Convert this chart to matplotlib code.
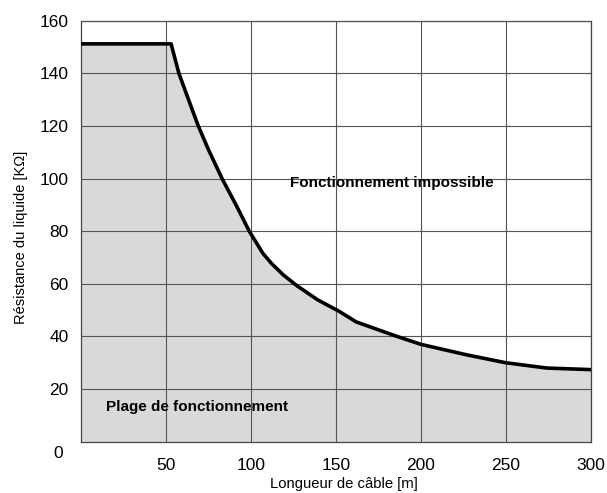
import matplotlib
matplotlib.use("Agg")
import matplotlib.pyplot as plt

plt.rcParams['font.family'] = ['Liberation Sans', 'DejaVu Sans']

# cable length [m] vs max liquid resistance [kOhm]
longueur = [0, 53, 57.6, 62.7, 69, 75, 83, 91.6, 99, 107, 112, 119, 127,
            139, 152, 162, 186, 200, 227, 250, 274, 300]
resistance = [151.2, 151.2, 140, 131, 120, 111, 100, 89.5, 80, 71.6, 67.8,
              63.4, 59.3, 54, 49.5, 45.5, 40, 37, 33, 30, 28, 27.4]

x_ticks = [50, 100, 150, 200, 250, 300]
y_ticks = [20, 40, 60, 80, 100, 120, 140, 160]

fig = plt.figure(figsize=(6.07, 4.93), dpi=100)
ax = fig.add_axes([0.1334, 0.104, 0.8402, 0.854])

ax.fill_between(longueur, 0, resistance, color='#d9d9d9', zorder=1, lw=0)
ax.plot(longueur, resistance, color='black', lw=2.6, zorder=3,
        solid_joinstyle='round', solid_capstyle='butt')

ax.set_xlim(0, 300)
ax.set_ylim(0, 160)
ax.set_xticks(x_ticks)
ax.set_yticks(y_ticks)
ax.grid(True, color='#555555', lw=0.8, zorder=2)
ax.set_axisbelow(False)
for s in ax.spines.values():
    s.set_color('#444444')
    s.set_linewidth(0.9)
    s.set_zorder(2)
ax.tick_params(length=0, labelsize=12.5, pad=9, axis='y')
ax.tick_params(length=0, labelsize=12.5, pad=12, axis='x')

# origin label sits below the axis line
ax.text(-13.2, -4.3, '0', fontsize=12.5, ha='center', va='center')

ax.text(183, 98.5, 'Fonctionnement impossible', fontsize=11,
        fontweight='bold', ha='center', va='center', zorder=4)
ax.text(15, 13.2, 'Plage de fonctionnement', fontsize=11,
        fontweight='bold', ha='left', va='center', zorder=4)

ax.set_xlabel('Longueur de câble [m]', fontsize=10.7)
ax.xaxis.set_label_coords(0.515, -0.083)
ax.set_ylabel('Résistance du liquide [KΩ]', fontsize=10.5)
ax.yaxis.set_label_coords(-0.104, 0.485)

fig.savefig('out.png', dpi=100)
